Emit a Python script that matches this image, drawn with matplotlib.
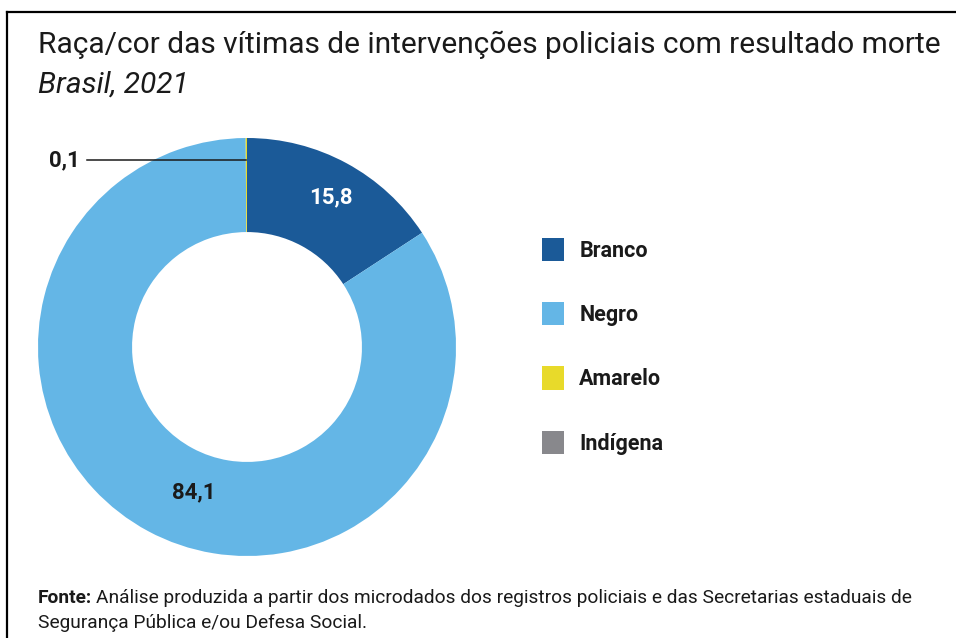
import matplotlib

matplotlib.use("Agg")
import matplotlib.pyplot as plt
import numpy as np
from matplotlib.lines import Line2D
from matplotlib.patches import Patch

# Raça/cor das vítimas, Brasil 2021 (%)
categories = ["Branco", "Negro", "Amarelo", "Indígena"]
shares = [15.8, 84.1, 0.1, 0.0]
share_labels = ["15,8", "84,1", "0,1", None]
colors = ["#1b5a98", "#64b6e6", "#e8da2a", "#88888c"]

W, H = 956, 638
FONT = ["Roboto", "DejaVu Sans"]
INK = "#1a1a1a"

fig = plt.figure(figsize=(W / 100, H / 100), dpi=100)
fig.patch.set_facecolor("white")


def px(x, y):
    return x / W, 1 - y / H


def fit_width(txt, width_px):
    """Shrink/grow a text's font size so it spans width_px pixels."""
    renderer = fig.canvas.get_renderer()
    for _ in range(3):
        w = txt.get_window_extent(renderer).width
        txt.set_fontsize(txt.get_fontsize() * width_px / w)
    return txt


# frame: top and left rules only
fig.add_artist(Line2D([7 / W, 1], [1 - 12 / H] * 2, color="black", lw=1.6))
fig.add_artist(Line2D([7 / W] * 2, [1 - 12 / H, 0], color="black", lw=1.6))

title = fig.text(*px(38, 45), "Raça/cor das vítimas de intervenções policiais com resultado morte",
                 family=FONT, fontsize=20, va="center", ha="left", color=INK)
fit_width(title, 902)
fig.text(*px(38, 85), "Brasil, 2021", family=FONT, fontsize=title.get_fontsize(),
         style="italic", va="center", ha="left", color=INK)

# donut
cx, cy, r = 247, 347, 209
ax = fig.add_axes([(cx - r) / W, (H - cy - r) / H, 2 * r / W, 2 * r / H])
ring = 0.45
wedges, _ = ax.pie(shares, colors=colors, startangle=90, counterclock=False,
                   radius=1, wedgeprops=dict(width=ring, linewidth=0))
ax.set_xlim(-1, 1)
ax.set_ylim(-1, 1)
ax.set_aspect("equal")
ax.axis("off")

label_style = {
    "Branco": dict(r=0.82, dtheta=-1, color="white"),
    "Negro": dict(r=0.74, dtheta=8, color=INK),
}
for w, cat, lab in zip(wedges, categories, share_labels):
    if lab is None:
        continue
    mid = np.deg2rad((w.theta1 + w.theta2) / 2)
    if cat in label_style:
        st = label_style[cat]
        ang = mid + np.deg2rad(st["dtheta"])
        ax.text(st["r"] * np.cos(ang), st["r"] * np.sin(ang), lab, ha="center", va="center",
                family=FONT, fontsize=16, fontweight="bold", color=st["color"])
    else:
        # thin slice: leader line out to the left
        y0 = 0.895 * np.sin(mid)
        x0 = 0.895 * np.cos(mid)
        ax.plot([x0, -0.765], [y0, y0], color=INK, lw=1.1, clip_on=False)
        ax.text(-0.8, y0, lab, ha="right", va="center", family=FONT, fontsize=16,
                fontweight="bold", color=INK, clip_on=False)

handles = [Patch(facecolor=c, edgecolor="none") for c in colors]
leg = fig.legend(handles, categories, loc="upper left", bbox_to_anchor=px(533, 229),
                 frameon=False, handlelength=1.05, handleheight=1.3, handletextpad=0.7,
                 labelspacing=1.88, borderaxespad=0,
                 prop=dict(family=FONT, size=15.5, weight="bold"))
for t in leg.get_texts():
    t.set_color(INK)

# source note: bold "Fonte:" followed by regular text
fs_note = 13
fonte = fig.text(*px(38, 598), "Fonte:", family=FONT, fontsize=fs_note, fontweight="bold",
                 va="center", ha="left", color=INK)
rest = fig.text(0, 0, "Análise produzida a partir dos microdados dos registros policiais "
                "e das Secretarias estaduais de", family=FONT, fontsize=fs_note,
                va="center", ha="left", color=INK)
fig.canvas.draw()
renderer = fig.canvas.get_renderer()
for _ in range(3):
    fb = fonte.get_window_extent(renderer)
    rb = rest.get_window_extent(renderer)
    scale = (918 - 38) / (fb.width + 4 + rb.width)
    fonte.set_fontsize(fonte.get_fontsize() * scale)
    rest.set_fontsize(rest.get_fontsize() * scale)
fb = fonte.get_window_extent(renderer).transformed(fig.transFigure.inverted())
rest.set_position((fb.x1 + 4 / W, px(0, 598)[1]))
fig.text(*px(38, 623), "Segurança Pública e/ou Defesa Social.", family=FONT,
         fontsize=rest.get_fontsize(), va="center", ha="left", color=INK)

fig.savefig("out.png", dpi=100, facecolor="white")
